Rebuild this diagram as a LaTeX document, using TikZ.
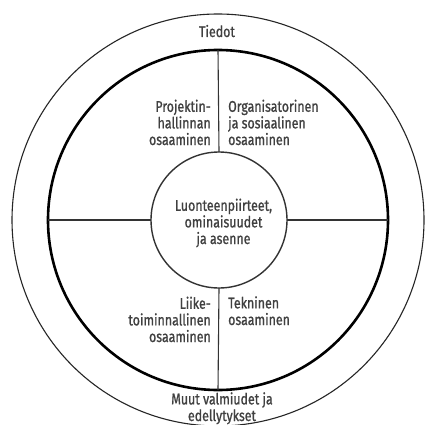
\documentclass[tikz,border=0pt]{standalone}
\usepackage{fontspec}
\setmainfont[FakeStretch=0.8, FakeBold=0.9]{Fira Sans}
\begin{document}
\begin{tikzpicture}[x=1pt,y=-1pt,
  ringline/.style={draw=black!85, line width=1.1pt},
  ringbox/.style={circle, inner sep=0pt, outer sep=0pt},
  divider/.style={draw=black!80, line width=1.1pt},
  lbl/.style={inner sep=0pt, text=black!75,
    font=\fontsize{15.5}{16.6}\selectfont}]
\useasboundingbox[fill=white] (0,0) rectangle (424,425);

% three concentric circles
\node[ringbox, ringline, minimum size=412pt] (outer) at (218,220) {};
\node[ringbox, draw=black, line width=2.6pt, minimum size=340pt] (ring) at (218,220) {};
\node[ringbox, draw=black!80, line width=1.4pt, minimum size=136pt] (core) at (219,220) {};

% spokes dividing the middle ring into four quarters
\draw[divider] (ring.north) -- (core.north);
\draw[divider] (core.south) -- (ring.south);
\draw[divider] (ring.west) -- (core.west);
\draw[divider] (core.east) -- (ring.east);

% outer ring texts (anchored at the baseline of the last line)
\node[lbl, anchor=base] (tiedot) at (217,37) {Tiedot};
\node[lbl, anchor=base, align=center] (muut) at (222,421)
  {Muut valmiudet ja\\edellytykset};

% quarter texts
\node[lbl, anchor=base east, align=right] (proj) at (211,145)
  {Projektin-\\hallinnan\\osaaminen};
\node[lbl, anchor=base west, align=left] (org) at (228,145)
  {Organisatorinen\\ja sosiaalinen\\osaaminen};
\node[lbl, anchor=base east, align=right] (liike) at (211,342)
  {Liike-\\toiminnallinen\\osaaminen};
\node[lbl, anchor=base west, align=left] (tekn) at (228,325)
  {Tekninen\\osaaminen};

% core text
\node[lbl, anchor=base, align=center] (luonne) at (223.5,244)
  {Luonteenpiirteet,\\ominaisuudet\\ja asenne};
\end{tikzpicture}
\end{document}
